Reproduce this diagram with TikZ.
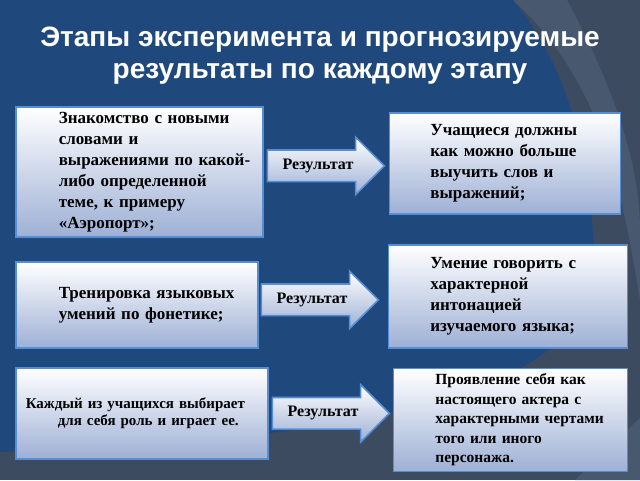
\documentclass[tikz,border=0pt]{standalone}
\usepackage{fontspec}
\setmainfont{Liberation Serif}
\newfontfamily\titlefont{Liberation Sans}
\usetikzlibrary{shapes.arrows, positioning}

\definecolor{slideblue}{RGB}{31,73,125}
\definecolor{slategrey}{RGB}{60,75,96}
\definecolor{slateband}{RGB}{72,88,110}
\definecolor{boxedge}{RGB}{85,142,213}
\definecolor{boxlow}{RGB}{158,176,213}

\tikzset{
  stage/.style={rectangle, draw=boxedge, line width=1.6pt, top color=white, bottom color=boxlow,
    inner sep=0pt, align=left, font=\bfseries\fontsize{17}{21}\selectfont},
  indentby/.style={execute at begin node={\leftskip=#1\relax}},
  result/.style={single arrow, draw=boxedge, line width=1.6pt, top color=white, bottom color=boxlow,
    single arrow head extend=13pt, single arrow head indent=0pt, minimum height=117pt,
    inner xsep=4pt, inner ysep=8pt, font=\bfseries\fontsize{16}{18}\selectfont},
  heading/.style={text=white, align=center, font=\titlefont\bfseries\fontsize{28}{32}\selectfont}
}

\begin{document}
\begin{tikzpicture}[x=1pt, y=-1pt]

% background
\fill[slategrey] (0,0) rectangle (640,480);
\fill[slateband] (513,0) -- (567,0) .. controls (610,80) and (640,160) .. (640,230) -- (640,300)
  .. controls (620,180) and (600,80) .. (513,0) -- cycle;
\fill[slateband] (575,480) -- (640,418) -- (640,480) -- cycle;
\fill[slideblue] (0,0) -- (513,0) .. controls (572,70) and (592,170) .. (594,260)
  .. controls (596,380) and (420,438) .. (0,452) -- cycle;
\useasboundingbox (0,0) rectangle (640,480);

% title
\node (title) [heading] at (320,56) {Этапы эксперимента и прогнозируемые\\результаты по каждому этапу};

% stages
\node (stage1) [stage, anchor=north west, minimum width=247pt, minimum height=130pt, text width=247pt, indentby=43pt]
  at (15,106) {Знакомство с новыми\\словами и\\выражениями по какой-\\либо определенной\\теме, к примеру\\«Аэропорт»;};
\node (stage2) [stage, anchor=north west, minimum width=242pt, minimum height=86pt, text width=242pt, indentby=43pt]
  at (15,261) {Тренировка языковых\\умений по фонетике;};
\node (stage3) [stage, anchor=north west, minimum width=252pt, minimum height=91pt, text width=252pt, indentby=10pt,
  font=\bfseries\fontsize{15}{17}\selectfont]
  at (15,367) {Каждый из учащихся выбирает\\\hspace*{32pt}для себя роль и играет ее.};

% results
\node (res1) [result, right=3pt of stage1.east, yshift=6pt] {Результат};
\node (res2) [result, right=2pt of stage2.east, yshift=5pt] {Результат};
\node (res3) [result, right=3pt of stage3.east] {Результат};

\node (goal1) [stage, anchor=west, minimum width=231pt, minimum height=101pt, text width=231pt, indentby=41pt]
  at ([xshift=3pt, yshift=2.5pt]res1.east) {Учащиеся должны\\как можно больше\\выучить слов и\\выражений;};
\node (goal2) [stage, anchor=west, minimum width=239pt, minimum height=103pt, text width=239pt, indentby=42pt]
  at ([xshift=8pt, yshift=3.5pt]res2.east) {Умение говорить с\\характерной\\интонацией\\изучаемого языка;};
\node (goal3) [stage, anchor=west, minimum width=234pt, minimum height=103pt, text width=234pt, indentby=42pt,
  font=\bfseries\fontsize{15.5}{19.5}\selectfont]
  at ([xshift=2pt, yshift=-6.5pt]res3.east) {Проявление себя как\\настоящего актера с\\характерными чертами\\того или иного\\персонажа.};

\end{tikzpicture}
\end{document}
